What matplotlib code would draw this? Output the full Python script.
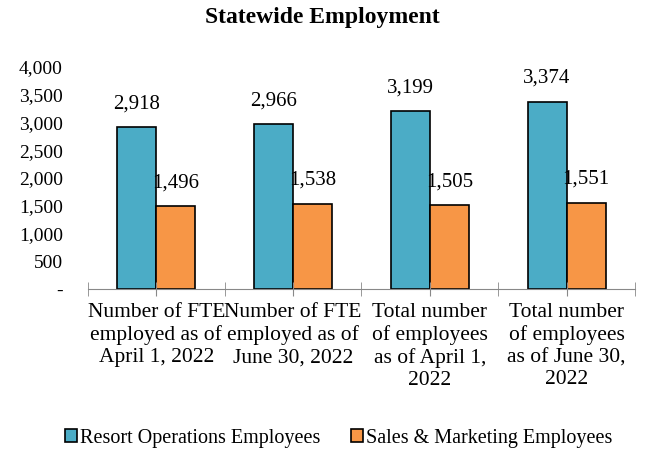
import matplotlib.pyplot as plt
import numpy as np

CATEGORIES = [
    "Number of FTE\nemployed as of\nApril 1, 2022",
    "Number of FTE\nemployed as of\nJune 30, 2022",
    "Total number\nof employees\nas of April 1,\n2022",
    "Total number\nof employees\nas of June 30,\n2022",
]
RESORT_OPS = [2918, 2966, 3199, 3374]
SALES_MKT = [1496, 1538, 1505, 1551]
SERIES = {
    "Resort Operations Employees": (RESORT_OPS, "#4BACC6"),
    "Sales & Marketing Employees": (SALES_MKT, "#F79646"),
}

plt.rcParams["font.family"] = ["Liberation Serif", "DejaVu Serif"]

fig = plt.figure(figsize=(6.45, 4.5), dpi=100)
ax = fig.add_axes([0.1364, 0.3578, 0.848, 0.4933])

x = np.arange(len(CATEGORIES))
width = 0.285
for i, (name, (vals, color)) in enumerate(SERIES.items()):
    offset = (i - 0.5) * width
    rects = ax.bar(x + offset, vals, width, color=color, edgecolor="black",
                   linewidth=1.2, label=name)
    for r, v in zip(rects, vals):
        ax.annotate(f"{v:,}", (r.get_x() + r.get_width() / 2, v),
                    xytext=(0, 10), textcoords="offset points",
                    ha="center", va="bottom", fontsize=15)

ax.set_xlim(-0.5, len(CATEGORIES) - 0.5)
ax.set_ylim(0, 4000)
ax.set_yticks(np.arange(0, 4001, 500))
ax.yaxis.set_major_formatter(lambda v, p: "-" if v == 0 else f"{int(v):,}")
ax.tick_params(axis="y", length=0, pad=18, labelsize=14)

ax.set_xticks(x, CATEGORIES, linespacing=1.22)
ax.set_xticks(np.arange(-0.5, len(CATEGORIES)), minor=True)
ax.tick_params(axis="x", which="both", direction="inout", length=10,
               color="#888888", labelsize=15.5, pad=5)

for s in ["top", "right", "left"]:
    ax.spines[s].set_visible(False)
ax.spines["bottom"].set_color("#888888")

fig.suptitle("Statewide Employment", fontsize=17, fontweight="bold",
             x=0.5, y=0.985, va="top")

fig.legend(loc="lower center", bbox_to_anchor=(0.525, -0.035), ncol=2, frameon=False,
           fontsize=14.5, handlelength=0.6, handleheight=0.6, handletextpad=0.15,
           columnspacing=1.5)

fig.savefig("out.png")
